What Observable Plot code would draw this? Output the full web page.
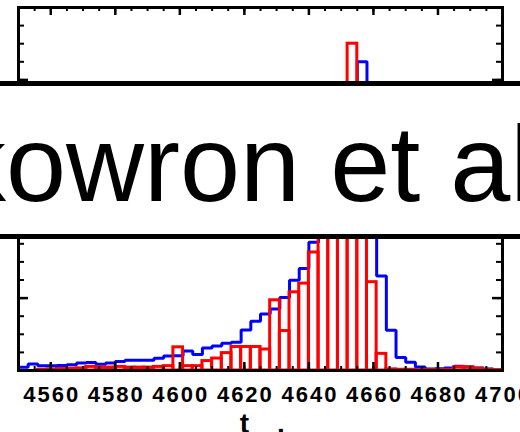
<!DOCTYPE html>
<html><head><meta charset="utf-8">
<script src="https://cdn.jsdelivr.net/npm/d3@7"></script>
<script src="https://cdn.jsdelivr.net/npm/@observablehq/plot@0.6"></script>
<style>
html,body{margin:0;padding:0;background:#fff;}
#wrap{position:relative;width:520px;height:432px;overflow:hidden;background:#fff;}
#wrap > *{position:absolute;left:0;top:0;}
</style></head><body><div id="wrap"></div>
<script>
// ---- data ----
const binStart = 4550;
const binWidth = 3;
const xTickLabels = [4560, 4580, 4600, 4620, 4640, 4660, 4680, 4700];
// lower panel (blue step histogram, red outlined bars); values per 3-day bin from 4550
const bottomBlue = [0.9, 1.8, 1.3, 1.3, 1.4, 1.6, 2.1, 2.2, 1.7, 2.1,
                    2.5, 2.8, 2.8, 2.8, 3.4, 4.0, 4.1, 5.4, 4.4, 6.2,
                    6.8, 7.5, 7.8, 11.2, 13.6, 15.6, 17.0, 20.2, 24.9, 28.2,
                    35.4, 42, 46, 49, 50, 50, 44, 26.1, 11.1, 3.6,
                    2.3, 1.0, 0.4, 0.5, 0.7, 1.2, 1.0, 0.7, 0.4, 0.1];
const bottomRed = [0, 0, 0.2, 0.3, 0.4, 0.5, 0.6, 1.0, 0.8, 0.8,
                   1.0, 0.8, 0.8, 0.8, 1.0, 1.2, 6.4, 1.2, 1.2, 2.6,
                   3.3, 4.8, 6.5, 6.5, 6.5, 5.8, 19.4, 10.9, 21.6, 24.0,
                   32.6, 40, 45, 48, 50, 47, 24.4, 4.6, 0.3, 0.2,
                   0.2, 0.1, 0.1, 0.1, 0.2, 0.9, 0.9, 0.5, 0.2, 0.1];
// upper panel: only the peak bins are visible
const topBlue = [0,0,0,0,0,0,0,0,0,0, 0,0,0,0,0,0,0,0,0,0, 0,0,0,0,0,0,0,0,0,0,
                 0,0,0,0,0,35,0,0,0,0, 0,0,0,0,0,0,0,0,0,0];
const topRed  = [0,0,0,0,0,0,0,0,0,0, 0,0,0,0,0,0,0,0,0,0, 0,0,0,0,0,0,0,0,0,0,
                 0,0,0,0,40,0,0,0,0,0, 0,0,0,0,0,0,0,0,0,0];
const bannerText = "Skowron et al.";
const axisTitleParts = ["t", "."];

(function () {
  const nBins = bottomBlue.length;
  const edges = d3.range(nBins + 1).map(i => binStart + i * binWidth);
  const xDomain = [edges[0], edges[nBins]];
  const yDomain = [0, 50];
  const bins = vals => vals.map((v, i) => ({x1: edges[i], x2: edges[i + 1], v}));
  const steps = vals => {
    const p = vals.map((v, i) => ({x: edges[i], v}));
    p.push({x: edges[nBins], v: vals[nBins - 1]});
    return p;
  };
  const BLUE = "#0000ff", RED = "#ff0000";
  const W = 520, ML = 18, MR = 18;
  const xPerPx = (xDomain[1] - xDomain[0]) / (W - ML - MR);

  function tickMarks(yPerPx, yMajor) {
    const xMinor = d3.range(xDomain[0], xDomain[1] + 0.1, 5);
    const yMinor = d3.range(0, 50.1, 5);
    return [
      Plot.ruleX(xMinor, {x: d => d, y1: yDomain[0], y2: yDomain[0] + 4 * yPerPx, stroke: "black", strokeWidth: 2}),
      Plot.ruleX(xTickLabels, {x: d => d, y1: yDomain[0], y2: yDomain[0] + 8 * yPerPx, stroke: "black", strokeWidth: 2.5}),
      Plot.ruleX(xMinor, {x: d => d, y1: yDomain[1], y2: yDomain[1] - 4 * yPerPx, stroke: "black", strokeWidth: 2}),
      Plot.ruleX(xTickLabels, {x: d => d, y1: yDomain[1], y2: yDomain[1] - 8 * yPerPx, stroke: "black", strokeWidth: 2.5}),
      Plot.ruleY(yMinor, {y: d => d, x1: xDomain[0], x2: xDomain[0] + 6 * xPerPx, stroke: "black", strokeWidth: 2}),
      Plot.ruleY(yMajor, {y: d => d, x1: xDomain[0], x2: xDomain[0] + 10 * xPerPx, stroke: "black", strokeWidth: 2.5}),
      Plot.ruleY(yMinor, {y: d => d, x1: xDomain[1], x2: xDomain[1] - 6 * xPerPx, stroke: "black", strokeWidth: 2}),
      Plot.ruleY(yMajor, {y: d => d, x1: xDomain[1], x2: xDomain[1] - 10 * xPerPx, stroke: "black", strokeWidth: 2.5})
    ];
  }

  const wrap = document.getElementById("wrap");

  // ---- lower panel ----
  const bH = 432, bMT = 189, bMB = 62;
  const lower = Plot.plot({
    width: W, height: bH,
    marginLeft: ML, marginRight: MR, marginTop: bMT, marginBottom: bMB,
    x: {domain: xDomain, axis: null},
    y: {domain: yDomain, axis: null},
    style: {background: "transparent", fontFamily: "'Liberation Sans', Arial, sans-serif", overflow: "visible"},
    marks: [
      Plot.line(steps(bottomBlue), {x: "x", y: "v", curve: "step-after", stroke: BLUE, strokeWidth: 3, strokeLinejoin: "miter", strokeLinecap: "square"}),
      Plot.rect(bins(bottomRed), {x1: "x1", x2: "x2", y1: 0, y2: "v", stroke: RED, fill: "none", strokeWidth: 3}),
      ...tickMarks((yDomain[1] - yDomain[0]) / (bH - bMT - bMB), [0, 20, 40]),
      Plot.frame({stroke: "black", strokeWidth: 3}),
      Plot.axisX(xTickLabels, {anchor: "bottom", tickSize: 0, tickPadding: 16, dx: 1, fontSize: 22, fontWeight: "bold", fill: "black", tickFormat: d => String(d)}),
      Plot.text([axisTitleParts[0]], {x: () => 4620, frameAnchor: "bottom", dy: 62, fontSize: 28, fontWeight: "bold", fill: "black"}),
      Plot.text([axisTitleParts[1]], {x: () => 4631.3, frameAnchor: "bottom", dy: 62, fontSize: 28, fontWeight: "bold", fill: "black"})
    ]
  });
  lower.querySelectorAll("text").forEach(t => {
    if (/^\d{4}$/.test(t.textContent.trim())) { t.setAttribute("letter-spacing", "2"); t.style.letterSpacing = "2px"; }
  });
  wrap.appendChild(lower);

  // ---- upper panel ----
  const tH = 190, tMT = 7, tMB = 2;
  const upper = Plot.plot({
    width: W, height: tH,
    marginLeft: ML, marginRight: MR, marginTop: tMT, marginBottom: tMB,
    x: {domain: xDomain, axis: null},
    y: {domain: yDomain, axis: null},
    style: {background: "transparent"},
    marks: [
      Plot.line(steps(topBlue), {x: "x", y: "v", curve: "step-after", stroke: BLUE, strokeWidth: 3, strokeLinejoin: "miter"}),
      Plot.rect(bins(topRed), {x1: "x1", x2: "x2", y1: 0, y2: "v", stroke: RED, fill: "none", strokeWidth: 3}),
      ...tickMarks((yDomain[1] - yDomain[0]) / (tH - tMT - tMB), [10, 30, 50]),
      Plot.frame({stroke: "black", strokeWidth: 3})
    ]
  });
  wrap.appendChild(upper);

  // ---- banner overlay ----
  const ns = "http://www.w3.org/2000/svg";
  const ov = document.createElementNS(ns, "svg");
  ov.setAttribute("width", W); ov.setAttribute("height", 432);
  const r = document.createElementNS(ns, "rect");
  r.setAttribute("x", -10); r.setAttribute("y", 83.5); r.setAttribute("width", 540); r.setAttribute("height", 153);
  r.setAttribute("fill", "white"); r.setAttribute("stroke", "black"); r.setAttribute("stroke-width", 5);
  ov.appendChild(r);
  const tx = document.createElementNS(ns, "text");
  tx.setAttribute("x", -120); tx.setAttribute("y", 201);
  tx.setAttribute("font-family", "'Liberation Sans', Arial, sans-serif");
  tx.setAttribute("font-size", 108); tx.setAttribute("fill", "black");
  tx.textContent = bannerText;
  ov.appendChild(tx);
  wrap.appendChild(ov);
})();
</script></body></html>
